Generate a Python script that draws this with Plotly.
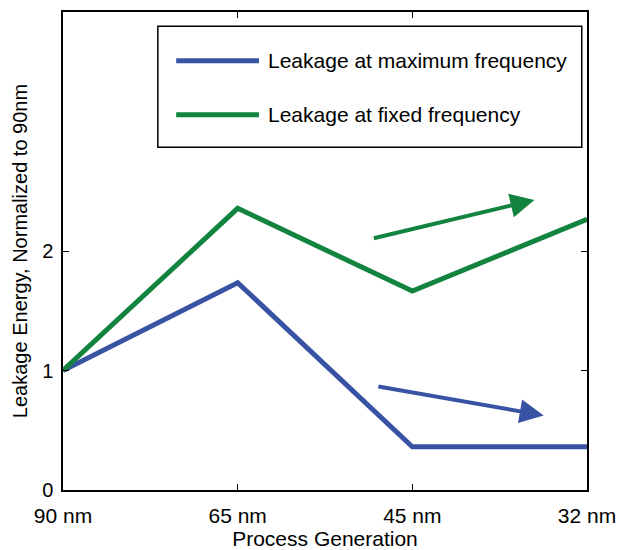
import plotly.graph_objects as go

# Process nodes and normalized leakage energy
generations = ["90 nm", "65 nm", "45 nm", "32 nm"]
leak_max_freq = [1.0, 1.735, 0.362, 0.362]
leak_fixed_freq = [1.0, 2.357, 1.665, 2.265]

# Trend arrows: (tail index, tail value, head index, head value)
arrow_fixed = (1.771, 2.104, 2.699, 2.427)
arrow_max = (1.797, 0.869, 2.752, 0.624)

y_ticks = [0, 1, 2]
labels = ["Leakage at maximum frequency", "Leakage at fixed frequency"]

BLUE = "#3953a4"
GREEN = "#12843f"
FONT = "Liberation Sans, Arial, Helvetica, sans-serif"

fig = go.Figure()
fig.add_trace(go.Scatter(x=generations, y=leak_max_freq, mode="lines",
                         line=dict(color=BLUE, width=5), name=labels[0],
                         showlegend=False))
fig.add_trace(go.Scatter(x=generations, y=leak_fixed_freq, mode="lines",
                         line=dict(color=GREEN, width=5), name=labels[1],
                         showlegend=False))

for (x0, y0, x1, y1), col in [(arrow_fixed, GREEN), (arrow_max, BLUE)]:
    fig.add_annotation(x=x1, y=y1, ax=x0, ay=y0, xref="x", yref="y",
                       axref="x", ayref="y", text="", showarrow=True,
                       arrowhead=2, arrowsize=1.2, arrowwidth=4,
                       arrowcolor=col, standoff=0, startstandoff=0)

# Boxed legend in the upper right of the axes
lx0, lx1, ly0, ly1 = 0.181, 0.990, 0.717, 0.970
fig.add_shape(type="rect", xref="paper", yref="paper", x0=lx0, x1=lx1,
              y0=ly0, y1=ly1, line=dict(color="black", width=1.5),
              fillcolor="white", layer="above")
for i, (lab, col) in enumerate(zip(labels, [BLUE, GREEN])):
    yy = 0.898 - i * 0.113
    fig.add_shape(type="line", xref="paper", yref="paper", x0=0.216,
                  x1=0.374, y0=yy, y1=yy, line=dict(color=col, width=5),
                  layer="above")
    fig.add_annotation(x=0.388, y=yy, xref="paper", yref="paper", text=lab,
                       showarrow=False, xanchor="left", yanchor="middle",
                       font=dict(size=21, color="black", family=FONT))

axis_common = dict(showline=True, linecolor="black", linewidth=1.5,
                   mirror="ticks", ticks="inside", ticklen=6,
                   tickcolor="black", tickwidth=1.2, showgrid=False,
                   zeroline=False, automargin=False)

fig.update_xaxes(type="category", range=[0, 3], ticklabelstandoff=6,
                 tickfont=dict(size=21, color="black", family=FONT),
                 title=dict(text="Process Generation", standoff=8,
                            font=dict(size=21, color="black", family=FONT)),
                 **axis_common)
fig.update_yaxes(range=[0, 4], tickvals=y_ticks, ticklabelstandoff=4,
                 tickfont=dict(size=20, color="black", family=FONT),
                 title=dict(text="Leakage Energy, Normalized to 90nm",
                            standoff=9,
                            font=dict(size=20, color="black", family=FONT)),
                 **axis_common)

fig.update_layout(width=617, height=550,
                  margin=dict(l=63, r=30, t=12, b=60, pad=0),
                  plot_bgcolor="white", paper_bgcolor="white",
                  font=dict(family=FONT, color="black"))

fig.write_html("out.html")
